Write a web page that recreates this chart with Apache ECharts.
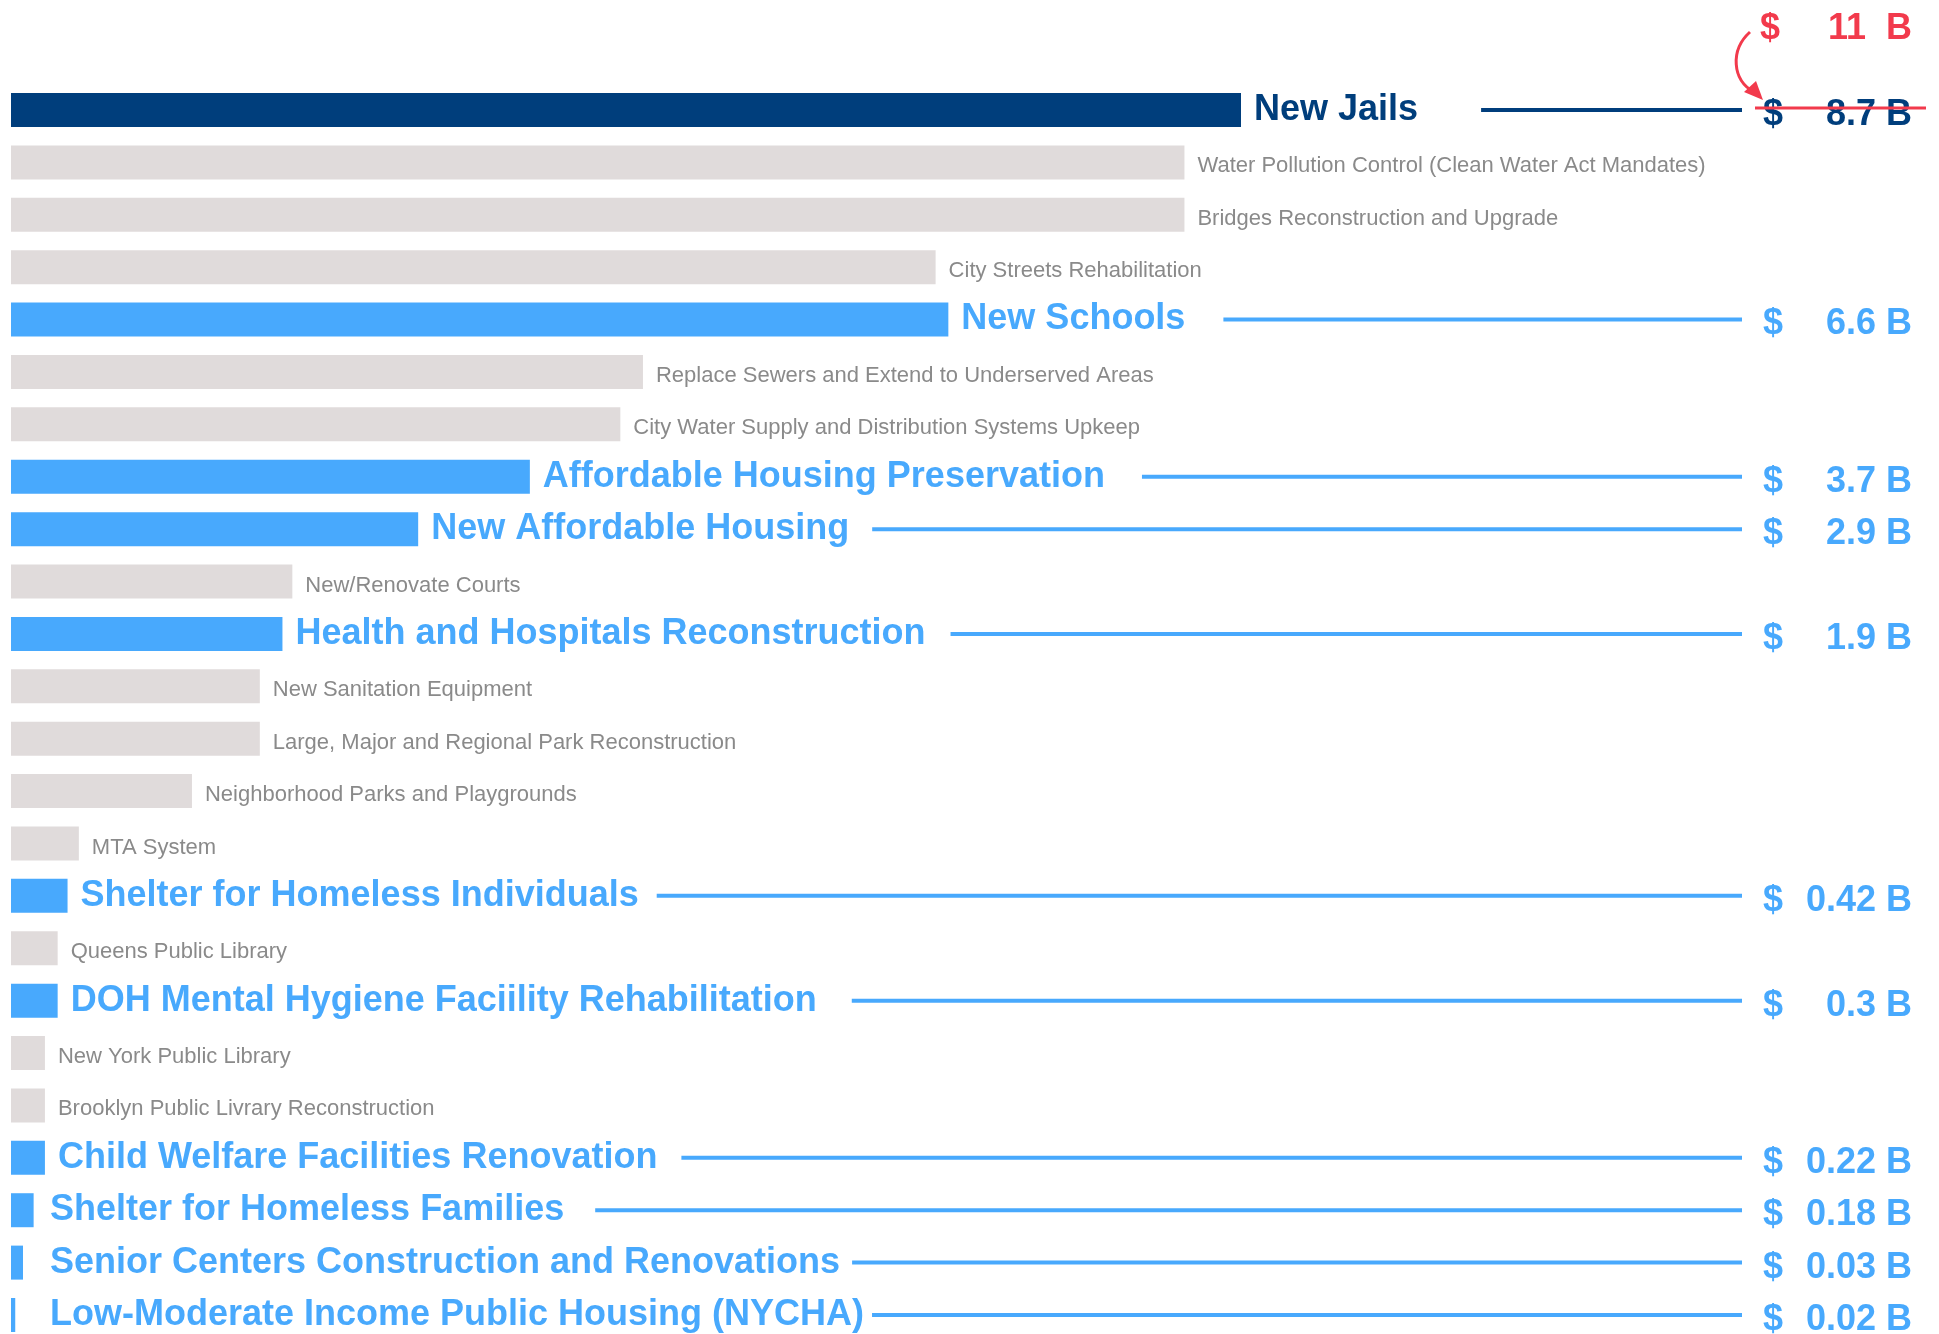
<!DOCTYPE html>
<html>
<head>
<meta charset="utf-8">
<script src="https://cdn.jsdelivr.net/npm/echarts@6/dist/echarts.min.js"></script>
<style>
  html, body { margin: 0; padding: 0; background: #fff; }
  #main { width: 1939px; height: 1334px; }
</style>
</head>
<body>
<div id="main"></div>
<script>
// capital budget items, in billions of dollars
const categories = [
  "New Jails",
  "Water Pollution Control (Clean Water Act Mandates)",
  "Bridges Reconstruction and Upgrade",
  "City Streets Rehabilitation",
  "New Schools",
  "Replace Sewers and Extend to Underserved Areas",
  "City Water Supply and Distribution Systems Upkeep",
  "Affordable Housing Preservation",
  "New Affordable Housing",
  "New/Renovate Courts",
  "Health and Hospitals Reconstruction",
  "New Sanitation Equipment",
  "Large, Major and Regional Park Reconstruction",
  "Neighborhood Parks and Playgrounds",
  "MTA System",
  "Shelter for Homeless Individuals",
  "Queens Public Library",
  "DOH Mental Hygiene Faciility Rehabilitation",
  "New York Public Library",
  "Brooklyn Public Livrary Reconstruction",
  "Child Welfare Facilities Renovation",
  "Shelter for Homeless Families",
  "Senior Centers Construction and Renovations",
  "Low-Moderate Income Public Housing (NYCHA)"
];
const values = [
  8.7, 8.3, 8.3, 6.54, 6.63, 4.47, 4.31, 3.67, 2.88, 1.99, 1.92, 1.76,
  1.76, 1.28, 0.48, 0.4, 0.33, 0.33, 0.24, 0.24, 0.24, 0.16, 0.085, 0.03
];
// highlighted rows and their printed amounts
const highlighted = [
  "New Jails", "New Schools", "Affordable Housing Preservation",
  "New Affordable Housing", "Health and Hospitals Reconstruction",
  "Shelter for Homeless Individuals", "DOH Mental Hygiene Faciility Rehabilitation",
  "Child Welfare Facilities Renovation", "Shelter for Homeless Families",
  "Senior Centers Construction and Renovations",
  "Low-Moderate Income Public Housing (NYCHA)"
];
const amounts = ["8.7", "6.6", "3.7", "2.9", "1.9", "0.42", "0.3", "0.22", "0.18", "0.03", "0.02"];
const revisedJails = "11";

const NAVY = "#003e7c";
const BLUE = "#48a9fd";
const GREY = "#e0dbdb";
const RED = "#f23a4c";
const FONT = '"Liberation Sans", Arial, Helvetica, sans-serif';
const BIG = "bold 36px " + FONT;

// gap between a label's end and its leader line
const lineGaps = [63, 38, 37, 23, 25, 18, 35, 24, 31, 12, 8];

const ctx = document.createElement("canvas").getContext("2d");
function textWidth(s) {
  ctx.font = BIG;
  return ctx.measureText(s).width;
}

const barData = categories.map((name, i) => {
  const k = highlighted.indexOf(name);
  return {
    value: values[i],
    itemStyle: { color: k === 0 ? NAVY : (k > 0 ? BLUE : GREY) },
    label: { show: k < 0 }
  };
});

const leaderData = categories
  .map((name, i) => [values[i], i])
  .filter(d => highlighted.indexOf(categories[d[1]]) >= 0);

function renderLeader(params, api) {
  const idx = api.value(1);
  const end = api.coord([api.value(0), idx]);
  const zero = api.coord([0, idx]);
  const y = end[1];
  const name = categories[idx];
  const k = highlighted.indexOf(name);
  const color = k === 0 ? NAVY : BLUE;
  const lx = Math.max(end[0] + 13, zero[0] + 39);
  const x1 = lx + textWidth(name) + lineGaps[k];
  const x2 = api.getWidth() - 197;
  const children = [
    { type: "text", style: { x: lx, y: y, text: name, fill: color, font: BIG, verticalAlign: "middle" } },
    { type: "line", shape: { x1: x1, y1: y, x2: x2, y2: y }, style: { stroke: color, lineWidth: 4 } },
    { type: "text", style: { x: x2 + 21, y: y + 5, text: "$", fill: color, font: BIG, verticalAlign: "middle" } },
    { type: "text", style: { x: x2 + 170, y: y + 5, text: amounts[k] + " B", fill: color, font: BIG, align: "right", verticalAlign: "middle" } }
  ];
  if (k === 0) {
    // revised estimate, strike through the old one
    children.push(
      { type: "line", shape: { x1: x2 + 13, y1: y - 2, x2: x2 + 184, y2: y - 2 }, style: { stroke: RED, lineWidth: 3 } },
      { type: "text", style: { x: x2 + 18, y: y - 81, text: "$", fill: RED, font: BIG, verticalAlign: "middle" } },
      { type: "text", style: { x: x2 + 170, y: y - 81, text: revisedJails + "  B", fill: RED, font: BIG, align: "right", verticalAlign: "middle" } },
      { type: "bezierCurve", shape: { x1: x2 + 8, y1: y - 78, cpx1: x2 - 12, cpy1: y - 60, cpx2: x2 - 10, cpy2: y - 30, x2: x2 + 12, y2: y - 18 },
        style: { stroke: RED, lineWidth: 3, fill: null } },
      { type: "polygon", shape: { points: [[x2 + 21, y - 10], [x2 + 2, y - 18], [x2 + 14, y - 29]] }, style: { fill: RED } }
    );
  }
  return { type: "group", children: children };
}

const chart = echarts.init(document.getElementById("main"));
chart.setOption({
  animation: false,
  grid: { left: 11, top: 110, width: 1230, height: 1205 },
  xAxis: { type: "value", min: 0, max: 8.7, show: false },
  yAxis: {
    type: "category", inverse: true, data: categories, boundaryGap: false,
    axisLine: { show: false }, axisTick: { show: false }, axisLabel: { show: false }, splitLine: { show: false }
  },
  series: [
    {
      type: "bar",
      data: barData,
      barWidth: 34,
      label: {
        position: "right", distance: 13, offset: [0, 4],
        formatter: "{b}", color: "#8a8a8a", fontSize: 22, fontFamily: FONT
      }
    },
    {
      type: "custom",
      data: leaderData,
      encode: { x: 0, y: 1 },
      clip: false,
      renderItem: renderLeader
    }
  ]
});
</script>
</body>
</html>
